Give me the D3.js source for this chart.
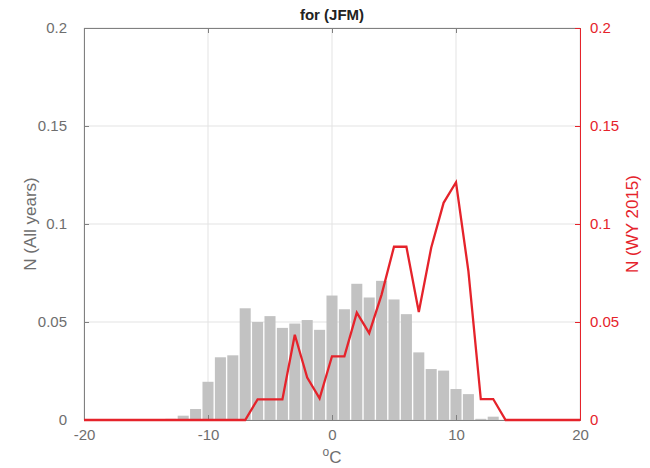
<!DOCTYPE html>
<html><head><meta charset="utf-8">
<script src="https://cdn.jsdelivr.net/npm/d3@7"></script>
<style>body{margin:0;background:#fff;} svg{display:block;font-family:"Liberation Sans",Arial,sans-serif;}</style>
</head><body><svg id="c" width="650" height="468"></svg>
<script>
const title = "for (JFM)";
const binCenters = [-14,-13,-12,-11,-10,-9,-8,-7,-6,-5,-4,-3,-2,-1,0,1,2,3,4,5,6,7,8,9,10,11,12,13];
const allYears = [0.0004,0.0006,0.0022,0.0056,0.0195,0.032,0.033,0.057,0.050,0.053,0.047,0.0492,0.051,0.046,0.0635,0.0565,0.0695,0.0625,0.071,0.0615,0.054,0.0345,0.026,0.0252,0.0158,0.0132,0.0006,0.0017];
const lineX = [-20,-19,-18,-17,-16,-15,-14,-13,-12,-11,-10,-9,-8,-7,-6,-5,-4,-3,-2,-1,0,1,2,3,4,5,6,7,8,9,10,11,12,13,14,15,16,17,18,19,20];
const wy2015 = [0,0,0,0,0,0,0,0,0,0,0,0,0,0,0.0105,0.0105,0.0105,0.0435,0.0217,0.011,0.0325,0.0325,0.0548,0.0443,0.064,0.0884,0.0884,0.0551,0.0879,0.1108,0.1213,0.076,0.0107,0.0107,0,0,0,0,0,0,0];
const xTicks = [-20,-10,0,10,20];
const xTickLabels = ["-20","-10","0","10","20"];
const yTicks = [0,0.05,0.1,0.15,0.2];
const yTickLabels = ["0","0.05","0.1","0.15","0.2"];

const gray = "#808080", red = "#e5232b";
const L = 84, R = 580, T = 28, B = 420;
const svg = d3.select("#c");
const x = d3.scaleLinear().domain([-20,20]).range([L,R]);
const yL = d3.scaleLinear().domain([0,0.2]).range([B,T]);
const yR = d3.scaleLinear().domain([0,0.2]).range([B,T]);

// grid
svg.append("g").selectAll("line").data(xTicks).join("line")
  .attr("x1",d=>x(d)).attr("x2",d=>x(d)).attr("y1",T).attr("y2",B)
  .attr("stroke","#e3e3e3").attr("stroke-width",1);
svg.append("g").selectAll("line").data(yTicks).join("line")
  .attr("y1",d=>yL(d)).attr("y2",d=>yL(d)).attr("x1",L).attr("x2",R)
  .attr("stroke","#e3e3e3").attr("stroke-width",1);

// bars
const bw = 0.89;
svg.append("g").selectAll("rect").data(binCenters).join("rect")
  .attr("x",(d)=>x(d-bw/2)).attr("width",x(bw)-x(0))
  .attr("y",(d,i)=>yL(allYears[i])).attr("height",(d,i)=>B-yL(allYears[i]))
  .attr("fill","#c2c2c2");

// axes
const fs = "15px";
const gBottom = svg.append("g").attr("transform",`translate(0,${B})`)
  .call(d3.axisBottom(x).tickValues(xTicks).tickSize(-5).tickPadding(9).tickFormat((d,i)=>xTickLabels[i]));
const gTop = svg.append("g").attr("transform",`translate(0,${T})`)
  .call(d3.axisTop(x).tickValues(xTicks).tickSize(-5).tickFormat(""));
const gLeft = svg.append("g").attr("transform",`translate(${L},0)`)
  .call(d3.axisLeft(yL).tickValues(yTicks).tickSize(-5).tickPadding(17).tickFormat((d,i)=>yTickLabels[i]));
const gRight = svg.append("g").attr("transform",`translate(${R},0)`)
  .call(d3.axisRight(yR).tickValues(yTicks).tickSize(-5).tickPadding(10).tickFormat((d,i)=>yTickLabels[i]));
[gBottom,gTop,gLeft].forEach(g=>{
  g.select(".domain").attr("stroke",gray);
  g.selectAll(".tick line").attr("stroke",gray);
  g.selectAll("text").attr("fill","#6e6e6e").style("font-size",fs).style("font-family","'Liberation Sans',Arial,sans-serif");
});
gRight.select(".domain").attr("stroke",red);
gRight.selectAll(".tick line").attr("stroke",red);
gRight.selectAll("text").attr("fill",red).style("font-size",fs).style("font-family","'Liberation Sans',Arial,sans-serif");

// red line
const line = d3.line().x((d,i)=>x(lineX[i])).y(d=>yR(d));
svg.append("path").datum(wy2015).attr("d",line).attr("fill","none")
  .attr("stroke",red).attr("stroke-width",2.3).attr("stroke-linejoin","miter");

// title and labels
svg.append("text").attr("x",(L+R)/2).attr("y",20).attr("text-anchor","middle")
  .style("font-size","15px").style("font-weight","bold").attr("fill","#222").text(title);
svg.append("text").attr("transform",`translate(36,${(T+B)/2}) rotate(-90)`).attr("text-anchor","middle")
  .style("font-size","17px").attr("fill","#6e6e6e").text("N (All years)");
svg.append("text").attr("transform",`translate(638,${(T+B)/2}) rotate(-90)`).attr("text-anchor","middle")
  .style("font-size","17px").attr("fill",red).text("N (WY 2015)");
const xl = svg.append("text").attr("x",(L+R)/2).attr("y",463).attr("text-anchor","middle")
  .style("font-size","17px").attr("fill","#6e6e6e");
xl.append("tspan").attr("dy","-7").style("font-size","12px").text("o");
xl.append("tspan").attr("dy","7").text("C");
</script></body></html>
